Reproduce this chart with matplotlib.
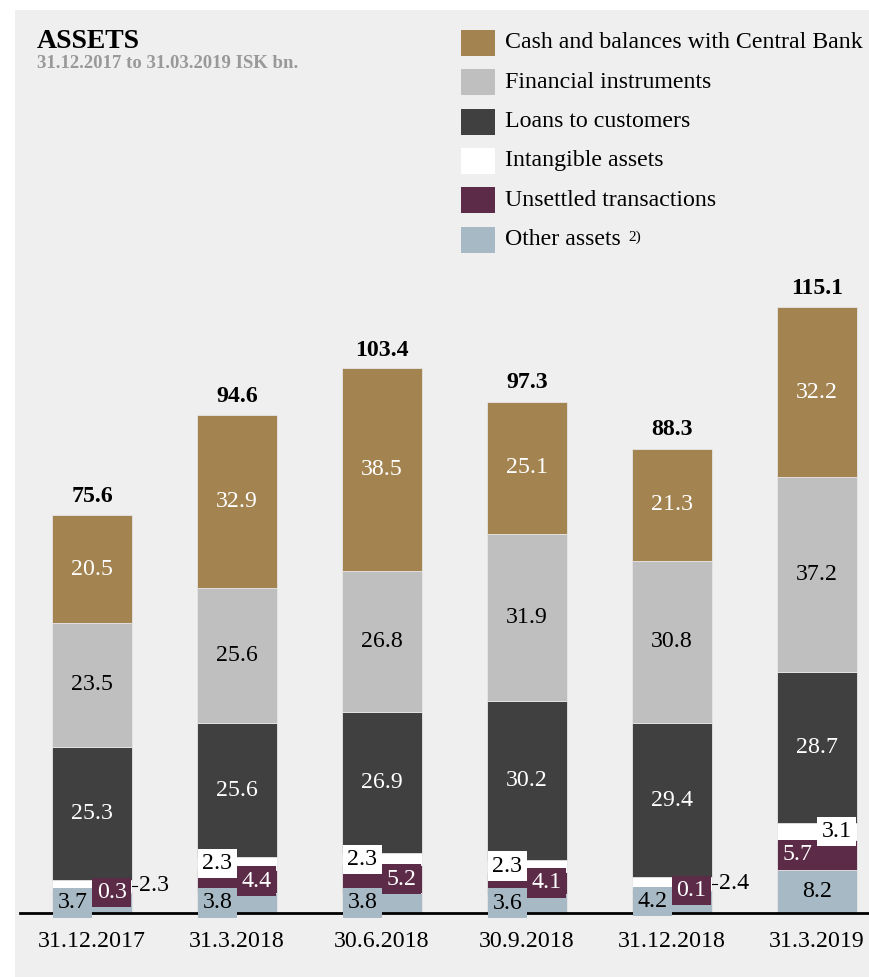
import matplotlib
matplotlib.use('Agg')
import matplotlib.pyplot as plt
from matplotlib.patches import Rectangle

plt.rcParams['font.family'] = ['Liberation Serif', 'DejaVu Serif']

# data, ISK bn.
dates = ['31.12.2017', '31.3.2018', '30.6.2018', '30.9.2018', '31.12.2018', '31.3.2019']
other_assets = [3.7, 3.8, 3.8, 3.6, 4.2, 8.2]
unsettled = [0.3, 4.4, 5.2, 4.1, 0.1, 5.7]
intangible = [2.3, 2.3, 2.3, 2.3, 2.4, 3.1]
loans = [25.3, 25.6, 26.9, 30.2, 29.4, 28.7]
financial = [23.5, 25.6, 26.8, 31.9, 30.8, 37.2]
cash = [20.5, 32.9, 38.5, 25.1, 21.3, 32.2]
totals = [75.6, 94.6, 103.4, 97.3, 88.3, 115.1]

legend_names = ['Cash and balances with Central Bank', 'Financial instruments',
                'Loans to customers', 'Intangible assets', 'Unsettled transactions',
                'Other assets']

c_cash = '#a3834f'
c_fin = '#bfbfbf'
c_loans = '#404040'
c_intang = '#ffffff'
c_unset = '#5b2b47'
c_other = '#a7b9c4'
bg = '#efefef'

W, H = 870, 977
fig = plt.figure(figsize=(W / 100, H / 100), dpi=100, facecolor='white')

# grey panel behind everything
fig.patches.append(Rectangle((15 / W, 0), 1 - 15 / W, (H - 10) / H,
                             transform=fig.transFigure, facecolor=bg,
                             edgecolor='none', zorder=-5))

ax = fig.add_axes([20 / W, (H - 912.7) / H, 850 / W, 710 / H])
ax.set_zorder(2)
ax.set_facecolor('none')
ax.set_xlim(-0.4966, 5.3655)
ax.set_ylim(0, 135)
for s in ax.spines.values():
    s.set_visible(False)
ax.axhline(0, color='black', lw=2, zorder=5, clip_on=False)

x = list(range(len(dates)))
bw = 0.5517
half = 0.135   # offset of half-bar label boxes
fs = 17.2

series = [(other_assets, c_other), (unsettled, c_unset), (intangible, c_intang),
          (loans, c_loans), (financial, c_fin), (cash, c_cash)]
bottoms = [0] * len(dates)
bases = []
for vals, col in series:
    ax.bar(x, vals, bw, bottom=bottoms, color=col, edgecolor='#e6e6e6',
           linewidth=0.6, zorder=2)
    bases.append(list(bottoms))
    bottoms = [b + v for b, v in zip(bottoms, vals)]

def box_label(xc, yc, val, face, tcol):
    ax.text(xc, yc, f'{val:.1f}', ha='center', va='center', fontsize=fs,
            color=tcol, zorder=6, clip_on=False,
            bbox=dict(boxstyle='square,pad=0.18', facecolor=face, edgecolor='none'))

# labels on the big segments
for i in x:
    for k, (vals, col) in enumerate(series[3:], start=3):
        tcol = 'black' if col == c_fin else 'white'
        ax.text(i, bases[k][i] + vals[i] / 2, f'{vals[i]:.1f}', ha='center',
                va='center', fontsize=fs, color=tcol, zorder=6)
    ax.annotate(f'{totals[i]:.1f}', (i, totals[i]), xytext=(0, 6),
                textcoords='offset points', ha='center', va='bottom',
                fontsize=fs, fontweight='bold', zorder=6)

# labels on the small segments
for i in x:
    y_o = other_assets[i] / 2
    y_u = bases[1][i] + unsettled[i] / 2
    y_in = bases[2][i] + intangible[i] / 2
    if unsettled[i] < 1:
        box_label(i - half, y_o, other_assets[i], c_other, 'black')
        box_label(i + half, y_u, unsettled[i], c_unset, 'white')
        xr = i + bw / 2
        ax.plot([xr, xr + 0.035], [y_in, y_in], color='black', lw=0.8, zorder=6)
        ax.text(xr + 0.045, y_in, f'{intangible[i]:.1f}', ha='left', va='center',
                fontsize=fs, color='black', zorder=6)
    elif other_assets[i] > 6:
        ax.text(i, y_o, f'{other_assets[i]:.1f}', ha='center', va='center',
                fontsize=fs, color='black', zorder=6)
        box_label(i - half, y_u, unsettled[i], c_unset, 'white')
        box_label(i + half, y_in, intangible[i], c_intang, 'black')
    else:
        box_label(i - half, y_o, other_assets[i], c_other, 'black')
        box_label(i + half, y_u, unsettled[i], c_unset, 'white')
        box_label(i - half, y_in, intangible[i], c_intang, 'black')

ax.set_yticks([])
ax.set_xticks(x)
ax.set_xticklabels(dates, fontsize=fs)
ax.tick_params(axis='x', length=0, pad=13)

# title block
fig.text(37 / W, 1 - 48 / H, 'ASSETS', fontsize=20, fontweight='bold',
         va='baseline', ha='left')
fig.text(37 / W, 1 - 68 / H, '31.12.2017 to 31.03.2019 ISK bn.', fontsize=13.5,
         fontweight='bold', color='#999999', va='baseline', ha='left')

# legend
leg_cols = [c_cash, c_fin, c_loans, c_intang, c_unset, c_other]
for k, (name, col) in enumerate(zip(legend_names, leg_cols)):
    yc = 43 + 39.3 * k
    fig.patches.append(Rectangle((461 / W, 1 - (yc + 13) / H), 34 / W, 26 / H,
                                 transform=fig.transFigure, facecolor=col,
                                 edgecolor='none', zorder=3))
    fig.text(505 / W, 1 - yc / H, name, fontsize=fs, va='center', ha='left')
fig.text(628 / W, 1 - 231 / H, '2)', fontsize=11, va='top', ha='left')

fig.savefig('out.png', dpi=100, facecolor=fig.get_facecolor())
